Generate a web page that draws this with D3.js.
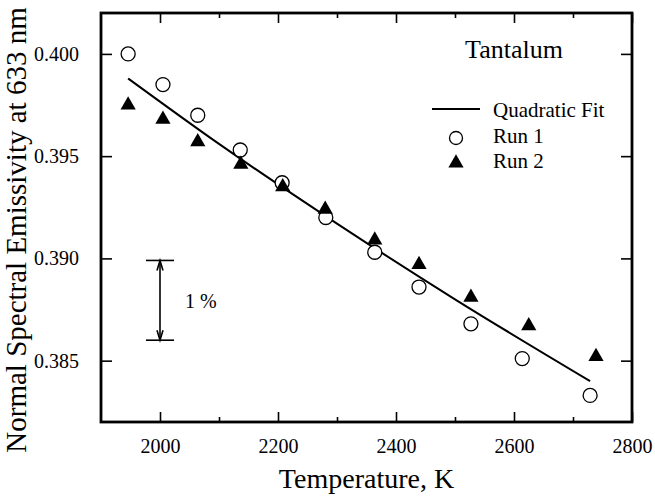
<!DOCTYPE html>
<html><head><meta charset="utf-8">
<script src="https://cdn.jsdelivr.net/npm/d3@7"></script>
<style>body{margin:0;background:#fff}svg{display:block}text{font-family:"Liberation Serif","Times New Roman",serif;fill:#000}</style>
</head><body><svg id="c" width="655" height="497"></svg>
<script>
const run1T = [1946, 2005, 2064, 2136, 2207, 2281, 2364, 2439, 2527, 2614, 2729];
const run1V = [0.4000, 0.3985, 0.3970, 0.3953, 0.3937, 0.3920, 0.3903, 0.3886, 0.3868, 0.3851, 0.3833];
const run2T = [1946, 2005, 2064, 2137, 2208, 2280, 2364, 2439, 2527, 2625, 2739];
const run2V = [0.3975, 0.3968, 0.3957, 0.3946, 0.3935, 0.3924, 0.3909, 0.3897, 0.3881, 0.3867, 0.3852];
const fitT = [1946, 2100, 2300, 2500, 2729];
const fitV = [0.3988, 0.3956, 0.3917, 0.3880, 0.3840];
const xTicks = [2000, 2200, 2400, 2600, 2800];
const xMinor = [2100, 2300, 2500, 2700];
const yTicks = [0.385, 0.390, 0.395, 0.400];
const barT = 2000, barLo = 0.3860, barHi = 0.3899;

const svg = d3.select('#c');
const L = 101, R = 632, T = 13, B = 422;
const x = d3.scaleLinear().domain([1900, 2800]).range([L, R]);
const y = d3.scaleLinear().domain([0.382, 0.402]).range([B, T]);

const axB = d3.axisBottom(x).tickValues(xTicks).tickSize(-10).tickFormat(d3.format('d'));
const gb = svg.append('g').attr('transform', `translate(0,${B})`).call(axB);
svg.append('g').attr('transform', `translate(0,${B})`).call(d3.axisBottom(x).tickValues(xMinor).tickSize(-5).tickFormat(''));
svg.append('g').attr('transform', `translate(0,${T})`).call(d3.axisTop(x).tickValues(xTicks).tickSize(-10).tickFormat(''));
svg.append('g').attr('transform', `translate(0,${T})`).call(d3.axisTop(x).tickValues(xMinor).tickSize(-5).tickFormat(''));
const gl = svg.append('g').attr('transform', `translate(${L},0)`).call(d3.axisLeft(y).tickValues(yTicks).tickSize(-11).tickFormat(d3.format('.3f')).tickPadding(22));
svg.append('g').attr('transform', `translate(${R},0)`).call(d3.axisRight(y).tickValues(yTicks).tickSize(-11).tickFormat(''));
svg.selectAll('.domain').remove();
svg.selectAll('.tick line').attr('stroke', '#000').attr('stroke-width', 1.6);
svg.selectAll('.tick text').attr('font-size', 20).attr('font-family', '"Liberation Serif",serif').attr('fill', '#000');
gb.selectAll('.tick text').attr('dy', null).attr('y', 31);

svg.append('rect').attr('x', L).attr('y', T).attr('width', R - L).attr('height', B - T)
  .attr('fill', 'none').attr('stroke', '#000').attr('stroke-width', 2.8);

const line = d3.line().x((d, i) => x(fitT[i])).y(d => y(d)).curve(d3.curveMonotoneX);
svg.append('path').datum(fitV).attr('d', line).attr('fill', 'none').attr('stroke', '#000').attr('stroke-width', 2);

svg.append('g').selectAll('circle').data(run1V).join('circle')
  .attr('cx', (d, i) => x(run1T[i])).attr('cy', d => y(d)).attr('r', 7)
  .attr('fill', '#fff').attr('stroke', '#000').attr('stroke-width', 1.3);
const tri = d3.symbol().type(d3.symbolTriangle).size(100);
svg.append('g').selectAll('path').data(run2V).join('path')
  .attr('d', tri).attr('transform', (d, i) => `translate(${x(run2T[i])},${y(d)})`).attr('fill', '#000');

const bx = x(barT), bw = 14;
const gbar = svg.append('g').attr('stroke', '#000').attr('stroke-width', 1.6).attr('fill', 'none');
gbar.append('line').attr('x1', bx - bw).attr('x2', bx + bw).attr('y1', y(barHi)).attr('y2', y(barHi));
gbar.append('line').attr('x1', bx - bw).attr('x2', bx + bw).attr('y1', y(barLo)).attr('y2', y(barLo));
gbar.append('line').attr('x1', bx).attr('x2', bx).attr('y1', y(barHi)).attr('y2', y(barLo));
gbar.append('path').attr('d', `M${bx - 3},${y(barHi) + 10}L${bx},${y(barHi)}L${bx + 3},${y(barHi) + 10}`);
gbar.append('path').attr('d', `M${bx - 3},${y(barLo) - 10}L${bx},${y(barLo)}L${bx + 3},${y(barLo) - 10}`);
svg.append('text').attr('x', 185).attr('y', 308).attr('font-size', 20).text('1 %');

svg.append('text').attr('x', 514).attr('y', 58).attr('text-anchor', 'middle').attr('font-size', 26).text('Tantalum');
svg.append('line').attr('x1', 432).attr('x2', 480).attr('y1', 109).attr('y2', 109).attr('stroke', '#000').attr('stroke-width', 2);
svg.append('text').attr('x', 493).attr('y', 117).attr('font-size', 21).text('Quadratic Fit');
svg.append('circle').attr('cx', 456).attr('cy', 138).attr('r', 6.5).attr('fill', '#fff').attr('stroke', '#000').attr('stroke-width', 1.3);
svg.append('text').attr('x', 493).attr('y', 143).attr('font-size', 21).text('Run 1');
svg.append('path').attr('d', tri).attr('transform', 'translate(456,163)').attr('fill', '#000');
svg.append('text').attr('x', 493).attr('y', 168).attr('font-size', 21).text('Run 2');

svg.append('text').attr('x', (L + R) / 2).attr('y', 488).attr('text-anchor', 'middle').attr('font-size', 28).text('Temperature, K');
svg.append('text').attr('transform', 'translate(26,230) rotate(-90)').attr('text-anchor', 'middle').attr('font-size', 29).text('Normal Spectral Emissivity at 633 nm');
</script></body></html>
